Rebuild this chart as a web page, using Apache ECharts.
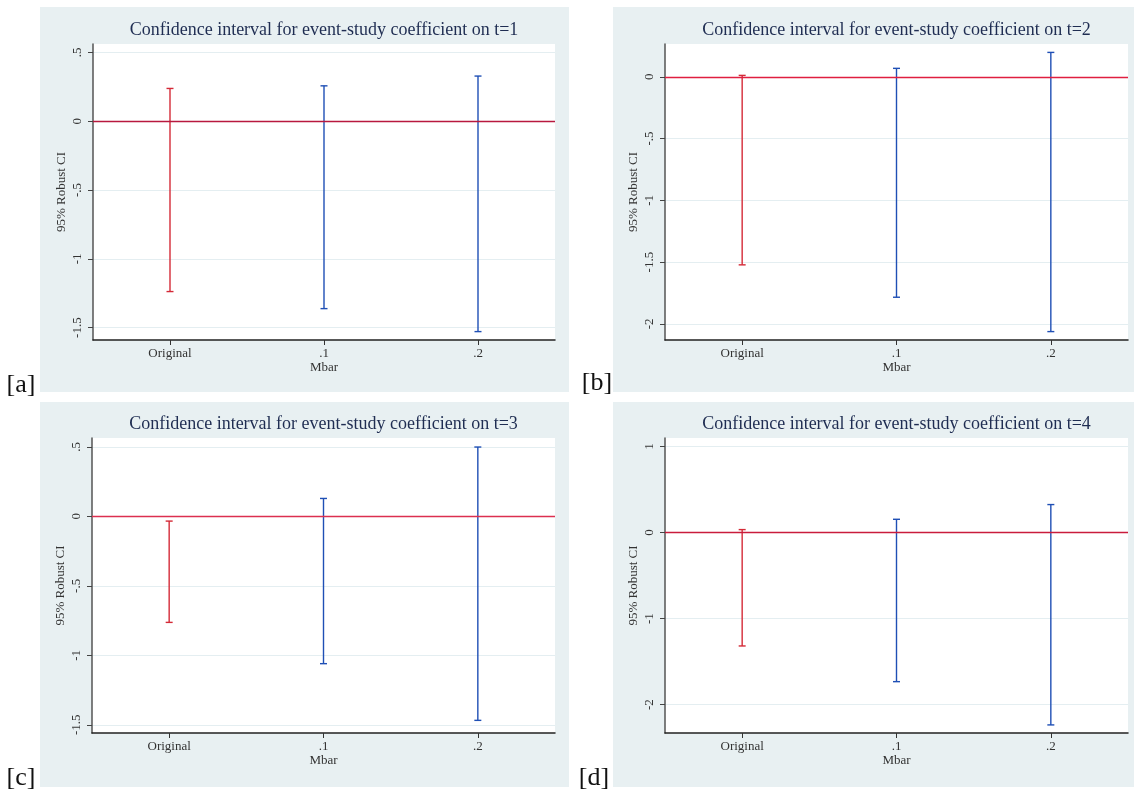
<!DOCTYPE html>
<html>
<head>
<meta charset="utf-8">
<title>Event-study confidence intervals</title>
<script src="https://cdn.jsdelivr.net/npm/echarts@6/dist/echarts.min.js"></script>
<style>
  html, body { margin: 0; padding: 0; background: #ffffff; }
  #chart { width: 1135px; height: 796px; }
</style>
</head>
<body>
<div id="chart"></div>
<script>
// Sensitivity categories (Mbar)
const categories = ['Original', '.1', '.2'];

// 95% robust confidence bounds, one pair of arrays per event time
const lowerT1 = [-1.238, -1.362, -1.529];
const upperT1 = [0.238, 0.257, 0.328];
const lowerT2 = [-1.522, -1.784, -2.062];
const upperT2 = [0.011, 0.068, 0.197];
const lowerT3 = [-0.763, -1.060, -1.468];
const upperT3 = [-0.034, 0.129, 0.499];
const lowerT4 = [-1.318, -1.733, -2.236];
const upperT4 = [0.035, 0.155, 0.326];

// Y tick values and the value range of each panel
const ticksT1 = [-1.5, -1, -0.5, 0, 0.5];
const ticksT2 = [-2, -1.5, -1, -0.5, 0];
const ticksT3 = [-1.5, -1, -0.5, 0, 0.5];
const ticksT4 = [-2, -1, 0, 1];
const rangeT1 = [-1.59, 0.561];
const rangeT2 = [-2.13, 0.265];
const rangeT3 = [-1.559, 0.564];
const rangeT4 = [-2.33, 1.10];

const titles = [
  'Confidence interval for event-study coefficient on t=1',
  'Confidence interval for event-study coefficient on t=2',
  'Confidence interval for event-study coefficient on t=3',
  'Confidence interval for event-study coefficient on t=4'
];
const panelTags = ['[a]', '[b]', '[c]', '[d]'];

const panels = [
  { lower: lowerT1, upper: upperT1, ticks: ticksT1, range: rangeT1 },
  { lower: lowerT2, upper: upperT2, ticks: ticksT2, range: rangeT2 },
  { lower: lowerT3, upper: upperT3, ticks: ticksT3, range: rangeT3 },
  { lower: lowerT4, upper: upperT4, ticks: ticksT4, range: rangeT4 }
];

// Layout of the four plot regions and their shaded backgrounds
const plotBoxes = [
  { left: 93, top: 44, width: 462, height: 296 },
  { left: 665, top: 44, width: 463, height: 296 },
  { left: 92, top: 438, width: 463, height: 295 },
  { left: 665, top: 438, width: 463, height: 295 }
];
const panelBoxes = [
  { x: 40, y: 7, width: 529, height: 385 },
  { x: 613, y: 7, width: 521, height: 385 },
  { x: 40, y: 402, width: 529, height: 385 },
  { x: 613, y: 402, width: 521, height: 385 }
];
const tagPos = [[21, 385], [597, 383], [21, 778], [594, 778]];

const SERIF = '"Liberation Serif", "DejaVu Serif", serif';
const barColors = ['#d42a37', '#1f4fb5', '#1f4fb5'];
const zeroColors = ['#b8193e', '#e01f40', '#dc3050', '#c91c3c'];
const gridColor = '#e4eef1';
const panelColor = '#e8f0f2';

function renderCap(params, api) {
  const xi = api.value(0);
  const lo = api.coord([xi, api.value(1)]);
  const hi = api.coord([xi, api.value(2)]);
  const cap = 3.5;
  const style = { stroke: barColors[params.dataIndex], lineWidth: 1.4 };
  return {
    type: 'group',
    children: [
      { type: 'line', shape: { x1: lo[0], y1: lo[1], x2: hi[0], y2: hi[1] }, style: style },
      { type: 'line', shape: { x1: lo[0] - cap, y1: lo[1], x2: lo[0] + cap, y2: lo[1] }, style: style },
      { type: 'line', shape: { x1: hi[0] - cap, y1: hi[1], x2: hi[0] + cap, y2: hi[1] }, style: style }
    ]
  };
}

const grid = [], xAxis = [], yAxis = [], series = [], graphic = [];

panels.forEach(function (p, i) {
  const b = plotBoxes[i];
  grid.push({
    left: b.left, top: b.top, width: b.width, height: b.height,
    show: true, backgroundColor: '#ffffff', borderWidth: 0
  });
  xAxis.push({
    type: 'category', gridIndex: i, data: categories, boundaryGap: true,
    name: 'Mbar', nameLocation: 'middle', nameGap: 21,
    nameTextStyle: { fontFamily: SERIF, fontSize: 13, color: '#333333' },
    axisLine: { show: true, onZero: false, lineStyle: { color: '#222222', width: 1.5 } },
    axisTick: { show: true, alignWithLabel: true, length: 5, lineStyle: { color: '#333333', width: 1 } },
    axisLabel: { fontFamily: SERIF, fontSize: 13, color: '#333333', margin: 7 },
    splitLine: { show: false }
  });
  yAxis.push({
    type: 'value', gridIndex: i, min: p.range[0], max: p.range[1],
    name: '95% Robust CI', nameLocation: 'middle', nameGap: 25, nameRotate: 90,
    nameTextStyle: { fontFamily: SERIF, fontSize: 13, color: '#333333' },
    axisLine: { show: true, onZero: false, lineStyle: { color: '#555555', width: 1.5 } },
    axisTick: { show: true, length: 5, customValues: p.ticks, lineStyle: { color: '#444444', width: 1 } },
    axisLabel: {
      fontFamily: SERIF, fontSize: 13, color: '#333333', margin: 9, rotate: 90,
      customValues: p.ticks,
      formatter: function (v) {
        if (v === 0) return '0';
        const s = String(Math.round(v * 10) / 10);
        return s.replace(/^(-?)0\./, '$1.');
      }
    },
    splitLine: { show: true, lineStyle: { color: gridColor, width: 1.2 } }
  });
  const rows = categories.map(function (c, k) { return [k, p.lower[k], p.upper[k]]; });
  series.push({
    type: 'custom', xAxisIndex: i, yAxisIndex: i, data: rows,
    renderItem: renderCap, silent: true, z: 3,
    markLine: {
      silent: true, symbol: 'none', label: { show: false },
      lineStyle: { color: zeroColors[i], width: 1.3, type: 'solid' },
      data: [{ yAxis: 0 }]
    }
  });

  const pb = panelBoxes[i];
  graphic.push({
    type: 'rect', z: -100,
    shape: { x: pb.x, y: pb.y, width: pb.width, height: pb.height },
    style: { fill: panelColor }
  });
  graphic.push({
    type: 'text', z: 100,
    x: b.left + b.width / 2, y: b.top - 14,
    style: {
      text: titles[i], fill: '#1f2d52', font: '18px ' + SERIF,
      align: 'center', verticalAlign: 'middle', textAlign: 'center', textVerticalAlign: 'middle'
    }
  });
  graphic.push({
    type: 'text', z: 100,
    x: tagPos[i][0], y: tagPos[i][1],
    style: {
      text: panelTags[i], fill: '#111111', font: '26px ' + SERIF,
      align: 'center', verticalAlign: 'middle', textAlign: 'center', textVerticalAlign: 'middle'
    }
  });
});

const chart = echarts.init(document.getElementById('chart'), null, { renderer: 'canvas' });
chart.setOption({
  backgroundColor: '#ffffff',
  animation: false,
  grid: grid,
  xAxis: xAxis,
  yAxis: yAxis,
  series: series,
  graphic: graphic
});
</script>
</body>
</html>
